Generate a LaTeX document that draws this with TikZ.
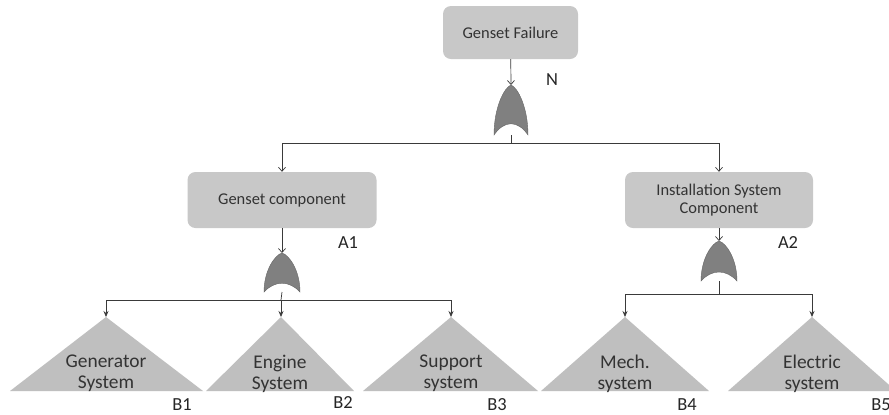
\documentclass[tikz,border=0pt]{standalone}
\usepackage{fontspec}
\setmainfont{Carlito}
\usetikzlibrary{arrows.meta}
\definecolor{boxfill}{HTML}{C8C8C8}
\definecolor{trifill}{HTML}{BFBFBF}
\definecolor{gatefill}{HTML}{808080}
\definecolor{linecol}{HTML}{3A3A3A}
\definecolor{txtcol}{HTML}{333333}
\tikzset{
  box/.style={rectangle, rounded corners=8bp, fill=boxfill, draw=none, text=txtcol,
    align=center, font=\fontsize{16.5}{17.5}\selectfont, inner sep=0pt},
  tri/.style={fill=trifill, draw=none},
  tritext/.style={align=center, text=txtcol, font=\fontsize{19.5}{21}\selectfont, inner sep=0pt},
  lbl/.style={text=black!85, font=\fontsize{18.5}{19}\selectfont, inner sep=0pt},
  conn/.style={draw=linecol, line width=0.7bp},
  arrV/.style={conn, -{Straight Barb[length=4bp,width=7bp]}},
  arrF/.style={conn, -{Stealth[length=6bp,width=5bp]}},
  pics/orgate/.style n args={2}{code={
    \fill[gatefill, draw=gatefill!80!black, line width=0.4bp]
      (-#1/2,#2) .. controls (-#1/2,0.45*#2) and (-0.2*#1,0.05*#2) .. (0,0)
      .. controls (0.2*#1,0.05*#2) and (#1/2,0.45*#2) .. (#1/2,#2)
      .. controls (0.2*#1,0.7*#2) and (-0.2*#1,0.7*#2) .. cycle;
    \coordinate (-in) at (0,0);
    \coordinate (-out) at (0,#2);
  }}
}
\begin{document}
\begin{tikzpicture}[x=1bp,y=-1bp]
\clip (0,0) rectangle (889,414);
\fill[white] (0,0) rectangle (889,414);

% boxes
\node[box, minimum width=135bp, minimum height=53bp] (N) at (510.5,32.5) {Genset Failure};
\node[box, minimum width=189bp, minimum height=56bp] (A1) at (282,200) {Genset component};
\node[box, minimum width=188bp, minimum height=56bp] (A2) at (719,200) {Installation System\\Component};

% gates
\pic (gN) at (511,85) {orgate={34}{50}};
\pic (gA1) at (282,253) {orgate={36}{39}};
\pic (gA2) at (719,241) {orgate={36}{40}};

% triangles
\coordinate (B1) at (106,317);
\coordinate (B2) at (281,317);
\coordinate (B3) at (451,317);
\coordinate (B4) at (625,317);
\coordinate (B5) at (812,317);
\fill[tri] (B1) -- (203,391) -- (10,391) -- cycle;
\fill[tri] (B2) -- (354,391) -- (206,391) -- cycle;
\fill[tri] (B3) -- (538,391) -- (363,391) -- cycle;
\fill[tri] (B4) -- (709,391) -- (541,391) -- cycle;
\fill[tri] (B5) -- (896,391) -- (728,391) -- cycle;
\node[tritext] (tB1) at (106,373.5) {Generator\\System};
\node[tritext] (tB2) at (280,373.5) {Engine\\System};
\node[tritext] (tB3) at (451,373.5) {Support\\system};
\node[tritext] (tB4) at (625,373.5) {Mech.\\system};
\node[tritext] (tB5) at (812,373.5) {Electric\\system};

% labels
\node[lbl] (lN) at (552,80) {N};
\node[lbl] (lA1) at (348,243) {A1};
\node[lbl] (lA2) at (788,243) {A2};
\node[lbl] (lB1) at (182,404.5) {B1};
\node[lbl] (lB2) at (343,403) {B2};
\node[lbl] (lB3) at (497,404.5) {B3};
\node[lbl] (lB4) at (687,404.5) {B4};
\node[lbl] (lB5) at (881,404.5) {B5};

% connectors
\coordinate (busN) at (511,143);
\coordinate (busA1) at (281,300);
\coordinate (busA2) at (719,294);
\draw[arrV] (N) -- (gN-in);
\draw[conn] (gN-out) -- (busN);
\draw[arrV] (busN) -| (A1.north);
\draw[arrV] (busN) -| (A2.north);
\draw[arrV] (A1) -- (gA1-in);
\draw[arrV] (A2) -- (gA2-in);
\draw[conn] (gA1-out) -- (busA1);
\draw[conn] (gA2-out) -- (busA2);
\draw[arrF] (busA1) -| (B1);
\draw[arrF] (busA1) -- (B2);
\draw[arrF] (busA1) -| (B3);
\draw[arrF] (busA2) -| (B4);
\draw[arrF] (busA2) -| (B5);
\end{tikzpicture}
\end{document}
